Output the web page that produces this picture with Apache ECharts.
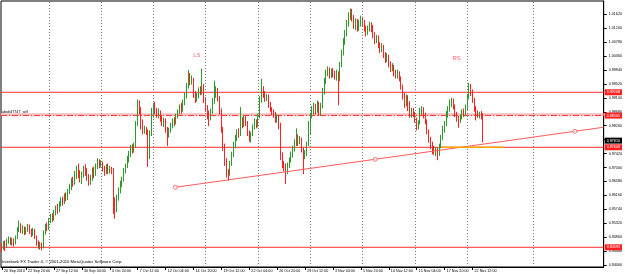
<!DOCTYPE html>
<html><head><meta charset="utf-8">
<script src="https://cdn.jsdelivr.net/npm/echarts@6/dist/echarts.min.js"></script>
<style>html,body{margin:0;padding:0;background:#fff}#c{width:625px;height:274px}</style>
</head><body><div id="c"></div>
<script>
// H4 bars, bar index counted from 20 Sep 2010 00:00 (6 bars per trading day)
const firstBar = 3;
const barOpen = [0.9468,
0.9458,0.9470,0.9462,0.9478,0.9485,0.9474,0.9480,0.9472,0.9488,0.9515,
0.9525,0.9510,0.9518,0.9505,0.9512,0.9520,0.9508,0.9500,0.9510,0.9490,
0.9472,0.9462,0.9468,0.9460,0.9505,0.9522,0.9515,0.9540,0.9552,0.9545,
0.9565,0.9578,0.9570,0.9590,0.9602,0.9595,0.9615,0.9608,0.9628,0.9640,
0.9660,0.9652,0.9675,0.9690,0.9680,0.9665,0.9678,0.9695,0.9688,0.9672,
0.9655,0.9668,0.9690,0.9680,0.9702,0.9718,0.9706,0.9712,0.9698,0.9688,
0.9700,0.9690,0.9695,0.9690,0.9590,0.9575,0.9610,0.9630,0.9650,0.9665,
0.9690,0.9705,0.9725,0.9740,0.9758,0.9752,0.9765,0.9830,0.9890,0.9875,
0.9835,0.9810,0.9818,0.9808,0.9740,0.9800,0.9860,0.9885,0.9872,0.9860,
0.9868,0.9850,0.9835,0.9842,0.9815,0.9800,0.9812,0.9828,0.9840,0.9835,
0.9855,0.9868,0.9880,0.9872,0.9895,0.9915,0.9945,0.9975,0.9960,0.9965,
0.9920,0.9905,0.9918,0.9935,0.9928,0.9945,0.9905,0.9880,0.9865,0.9850,
0.9870,0.9900,0.9925,0.9935,0.9910,0.9870,0.9815,0.9765,0.9720,0.9685,
0.9680,0.9712,0.9740,0.9768,0.9790,0.9805,0.9800,0.9840,0.9830,0.9848,
0.9835,0.9805,0.9790,0.9800,0.9822,0.9840,0.9830,0.9855,0.9905,0.9935,
0.9922,0.9908,0.9915,0.9890,0.9878,0.9870,0.9860,0.9845,0.9852,0.9828,
0.9735,0.9710,0.9700,0.9690,0.9705,0.9722,0.9740,0.9758,0.9775,0.9790,
0.9778,0.9785,0.9755,0.9735,0.9742,0.9770,0.9808,0.9855,0.9870,0.9885,
0.9872,0.9890,0.9862,0.9885,0.9930,0.9960,0.9985,0.9995,0.9978,0.9990,
0.9982,0.9975,0.9985,0.9970,1.0010,1.0045,1.0080,1.0105,1.0135,1.0155,
1.0165,1.0150,1.0128,1.0140,1.0122,1.0135,1.0145,1.0138,1.0120,1.0108,
1.0118,1.0130,1.0122,1.0100,1.0085,1.0092,1.0070,1.0058,1.0065,1.0040,
1.0028,1.0035,1.0012,0.9998,1.0005,0.9985,0.9978,0.9985,0.9968,0.9945,
0.9915,0.9905,0.9912,0.9895,0.9860,0.9872,0.9862,0.9845,0.9822,0.9835,
0.9868,0.9875,0.9858,0.9840,0.9810,0.9785,0.9770,0.9760,0.9748,0.9755,
0.9740,0.9765,0.9790,0.9815,0.9832,0.9860,0.9878,0.9892,0.9900,0.9882,
0.9860,0.9848,0.9840,0.9852,0.9868,0.9862,0.9880,0.9912,0.9935,0.9925,
0.9905,0.9878,0.9865,0.9858,0.9862,0.9855];
const barClose = [
0.9458,0.9470,0.9462,0.9478,0.9485,0.9474,0.9480,0.9472,0.9488,0.9515,
0.9525,0.9510,0.9518,0.9505,0.9512,0.9520,0.9508,0.9500,0.9510,0.9490,
0.9472,0.9462,0.9468,0.9460,0.9505,0.9522,0.9515,0.9540,0.9552,0.9545,
0.9565,0.9578,0.9570,0.9590,0.9602,0.9595,0.9615,0.9608,0.9628,0.9640,
0.9660,0.9652,0.9675,0.9690,0.9680,0.9665,0.9678,0.9695,0.9688,0.9672,
0.9655,0.9668,0.9690,0.9680,0.9702,0.9718,0.9706,0.9712,0.9698,0.9688,
0.9700,0.9690,0.9695,0.9690,0.9590,0.9575,0.9610,0.9630,0.9650,0.9665,
0.9690,0.9705,0.9725,0.9740,0.9758,0.9752,0.9765,0.9830,0.9890,0.9875,
0.9835,0.9810,0.9818,0.9808,0.9740,0.9800,0.9860,0.9885,0.9872,0.9860,
0.9868,0.9850,0.9835,0.9842,0.9815,0.9800,0.9812,0.9828,0.9840,0.9835,
0.9855,0.9868,0.9880,0.9872,0.9895,0.9915,0.9945,0.9975,0.9960,0.9965,
0.9920,0.9905,0.9918,0.9935,0.9928,0.9945,0.9905,0.9880,0.9865,0.9850,
0.9870,0.9900,0.9925,0.9935,0.9910,0.9870,0.9815,0.9765,0.9720,0.9685,
0.9680,0.9712,0.9740,0.9768,0.9790,0.9805,0.9800,0.9840,0.9830,0.9848,
0.9835,0.9805,0.9790,0.9800,0.9822,0.9840,0.9830,0.9855,0.9905,0.9935,
0.9922,0.9908,0.9915,0.9890,0.9878,0.9870,0.9860,0.9845,0.9852,0.9828,
0.9735,0.9710,0.9700,0.9690,0.9705,0.9722,0.9740,0.9758,0.9775,0.9790,
0.9778,0.9785,0.9755,0.9735,0.9742,0.9770,0.9808,0.9855,0.9870,0.9885,
0.9872,0.9890,0.9862,0.9885,0.9930,0.9960,0.9985,0.9995,0.9978,0.9990,
0.9982,0.9975,0.9985,0.9970,1.0010,1.0045,1.0080,1.0105,1.0135,1.0155,
1.0165,1.0150,1.0128,1.0140,1.0122,1.0135,1.0145,1.0138,1.0120,1.0108,
1.0118,1.0130,1.0122,1.0100,1.0085,1.0092,1.0070,1.0058,1.0065,1.0040,
1.0028,1.0035,1.0012,0.9998,1.0005,0.9985,0.9978,0.9985,0.9968,0.9945,
0.9915,0.9905,0.9912,0.9895,0.9860,0.9872,0.9862,0.9845,0.9822,0.9835,
0.9868,0.9875,0.9858,0.9840,0.9810,0.9785,0.9770,0.9760,0.9748,0.9755,
0.9740,0.9765,0.9790,0.9815,0.9832,0.9860,0.9878,0.9892,0.9900,0.9882,
0.9860,0.9848,0.9840,0.9852,0.9868,0.9862,0.9880,0.9912,0.9935,0.9925,
0.9905,0.9878,0.9865,0.9858,0.9862,0.9855,0.9781];
const barLow = [
0.9445,0.9452,0.9448,0.9458,0.9470,0.9466,0.9465,0.9462,0.9468,0.9484,
0.9505,0.9502,0.9500,0.9496,0.9498,0.9506,0.9500,0.9490,0.9494,0.9484,
0.9464,0.9455,0.9452,0.9450,0.9456,0.9498,0.9508,0.9512,0.9532,0.9536,
0.9540,0.9555,0.9560,0.9565,0.9582,0.9585,0.9590,0.9598,0.9602,0.9620,
0.9632,0.9642,0.9648,0.9665,0.9668,0.9655,0.9650,0.9670,0.9675,0.9660,
0.9645,0.9648,0.9660,0.9668,0.9675,0.9695,0.9698,0.9700,0.9688,0.9675,
0.9680,0.9680,0.9682,0.9680,0.9560,0.9545,0.9565,0.9600,0.9622,0.9640,
0.9658,0.9682,0.9698,0.9715,0.9732,0.9742,0.9745,0.9760,0.9825,0.9860,
0.9815,0.9800,0.9802,0.9798,0.9702,0.9725,0.9795,0.9850,0.9860,0.9850,
0.9848,0.9838,0.9825,0.9822,0.9805,0.9765,0.9790,0.9805,0.9818,0.9825,
0.9830,0.9848,0.9860,0.9862,0.9868,0.9888,0.9908,0.9938,0.9948,0.9950,
0.9910,0.9895,0.9898,0.9908,0.9918,0.9920,0.9895,0.9868,0.9845,0.9825,
0.9842,0.9862,0.9892,0.9910,0.9900,0.9860,0.9805,0.9750,0.9705,0.9670,
0.9660,0.9675,0.9705,0.9732,0.9758,0.9780,0.9790,0.9795,0.9818,0.9822,
0.9825,0.9795,0.9778,0.9775,0.9795,0.9815,0.9818,0.9822,0.9848,0.9895,
0.9910,0.9898,0.9900,0.9880,0.9868,0.9858,0.9850,0.9835,0.9835,0.9815,
0.9722,0.9698,0.9688,0.9650,0.9680,0.9698,0.9715,0.9730,0.9748,0.9765,
0.9765,0.9770,0.9745,0.9680,0.9725,0.9735,0.9765,0.9800,0.9848,0.9860,
0.9860,0.9865,0.9855,0.9855,0.9878,0.9920,0.9952,0.9975,0.9968,0.9970,
0.9972,0.9965,0.9962,0.9888,0.9960,1.0002,1.0038,1.0070,1.0095,1.0125,
1.0145,1.0140,1.0118,1.0115,1.0110,1.0112,1.0125,1.0125,1.0110,1.0095,
1.0100,1.0110,1.0108,1.0090,1.0072,1.0075,1.0060,1.0045,1.0048,1.0030,
1.0015,1.0018,1.0002,0.9988,0.9990,0.9975,0.9968,0.9968,0.9960,0.9935,
0.9905,0.9880,0.9885,0.9870,0.9850,0.9850,0.9852,0.9835,0.9812,0.9815,
0.9830,0.9858,0.9848,0.9830,0.9800,0.9775,0.9755,0.9740,0.9738,0.9735,
0.9722,0.9735,0.9758,0.9782,0.9805,0.9825,0.9850,0.9868,0.9882,0.9875,
0.9852,0.9838,0.9820,0.9835,0.9845,0.9852,0.9855,0.9872,0.9905,0.9915,
0.9895,0.9868,0.9842,0.9850,0.9848,0.9845,0.9776];
const barHigh = [
0.9472,0.9478,0.9480,0.9485,0.9492,0.9490,0.9488,0.9486,0.9495,0.9520,
0.9540,0.9532,0.9526,0.9522,0.9520,0.9530,0.9528,0.9515,0.9518,0.9515,
0.9495,0.9480,0.9476,0.9474,0.9510,0.9530,0.9534,0.9548,0.9560,0.9562,
0.9572,0.9585,0.9590,0.9598,0.9610,0.9612,0.9622,0.9625,0.9635,0.9650,
0.9668,0.9672,0.9690,0.9705,0.9712,0.9692,0.9688,0.9705,0.9710,0.9698,
0.9680,0.9678,0.9700,0.9702,0.9712,0.9728,0.9725,0.9722,0.9718,0.9705,
0.9710,0.9712,0.9705,0.9702,0.9698,0.9610,0.9618,0.9640,0.9660,0.9672,
0.9698,0.9712,0.9735,0.9750,0.9768,0.9770,0.9775,0.9840,0.9905,0.9902,
0.9882,0.9845,0.9826,0.9822,0.9815,0.9812,0.9880,0.9895,0.9898,0.9880,
0.9878,0.9872,0.9858,0.9850,0.9848,0.9822,0.9820,0.9835,0.9848,0.9852,
0.9862,0.9875,0.9890,0.9895,0.9905,0.9925,0.9955,0.9994,0.9985,0.9978,
0.9970,0.9930,0.9925,0.9942,0.9945,0.9998,0.9952,0.9912,0.9888,0.9872,
0.9878,0.9910,0.9962,0.9945,0.9940,0.9915,0.9878,0.9822,0.9772,0.9728,
0.9695,0.9720,0.9748,0.9778,0.9798,0.9815,0.9818,0.9882,0.9852,0.9858,
0.9855,0.9840,0.9812,0.9808,0.9830,0.9848,0.9845,0.9862,0.9915,0.9968,
0.9945,0.9930,0.9922,0.9920,0.9898,0.9882,0.9875,0.9868,0.9860,0.9858,
0.9835,0.9745,0.9720,0.9712,0.9715,0.9730,0.9748,0.9766,0.9785,0.9818,
0.9800,0.9795,0.9790,0.9760,0.9752,0.9778,0.9840,0.9865,0.9885,0.9895,
0.9892,0.9902,0.9898,0.9895,0.9940,0.9970,0.9995,1.0005,1.0002,0.9998,
1.0000,0.9992,0.9995,0.9990,1.0018,1.0055,1.0090,1.0115,1.0145,1.0168,
1.0180,1.0178,1.0160,1.0150,1.0148,1.0145,1.0158,1.0155,1.0145,1.0128,
1.0128,1.0140,1.0138,1.0130,1.0108,1.0100,1.0098,1.0078,1.0075,1.0070,
1.0048,1.0045,1.0040,1.0020,1.0015,1.0010,0.9995,0.9995,0.9990,0.9975,
0.9950,0.9925,0.9920,0.9918,0.9900,0.9880,0.9880,0.9868,0.9850,0.9842,
0.9880,0.9885,0.9882,0.9865,0.9845,0.9815,0.9792,0.9778,0.9765,0.9762,
0.9760,0.9772,0.9798,0.9825,0.9840,0.9870,0.9885,0.9905,0.9910,0.9908,
0.9890,0.9868,0.9855,0.9860,0.9875,0.9878,0.9890,0.9922,0.9955,0.9952,
0.9935,0.9910,0.9885,0.9872,0.9868,0.9870,0.9864];

const priceTicks = [1.01620,1.01200,1.00780,1.00360,0.99940,0.99520,0.99100,0.98680,0.98260,0.97840,0.97420,0.97000,0.96580,0.96160,0.95740,0.95320,0.94900,0.94480,0.94060];
const dateIdx = [3.2,17,33,49,65,81,97,113,129,145,161,177,193,209,225,241,257,273];
const dateLabels = ["20 Sep 2010","22 Sep 20:00","27 Sep 12:00","30 Sep 04:00","4 Oct 20:00","7 Oct 12:00","12 Oct 04:00","14 Oct 20:00","19 Oct 12:00","22 Oct 04:00","26 Oct 20:00","29 Oct 12:00","3 Nov 04:00","5 Nov 20:00","10 Nov 12:00","15 Nov 04:00","17 Nov 20:00","22 Nov 12:00"];
const weekIdx = [30,60,90,120,150,180,210,240,270,307.6];
const levelRed = [0.99268, 0.97609, 0.94593];
const levelDashDot = 0.98565;
const levelBand = 0.98598;
const bidPrice = 0.97810;
const orangeSeg = [[255.4,0.97609],[290.7,0.97609]];
const trendA = [102.6, 0.96403];
const trendB = [331.7, 0.98092];
const trendMid = [217.2, 0.97247];
const textMarks = [{name:'LS', idx:114.9, price:1.00393},{name:'RS', idx:263.9, price:1.00302}];
const lineName = 'abob47747_sell';
const copyright = 'Interbank FX Trader 4, \u00a9 2001-2010 MetaQuotes Software Corp.';

const XMIN = 2.596, XMAX = 348.19, YMIN = 0.93999, YMAX = 1.02021;

const candles = barClose.map((c, k) => [firstBar + k, barOpen[k], c, barLow[k], barHigh[k]]);

const chart = echarts.init(document.getElementById('c'), null, {renderer:'canvas'});
const FONT = 'Liberation Sans, Arial, sans-serif';
const slope = (trendB[1]-trendA[1])/(trendB[0]-trendA[0]);
const trendEnd = [XMAX, trendA[1] + slope*(XMAX-trendA[0])];

function hl(v, color, width, type, labelBg, showLabel) {
  return {type:'line', silent:true, symbol:'none', z:3,
    data:[[XMIN, v],[XMAX, v]],
    lineStyle:{color:color, width:width, type:type, opacity: width ? 1 : 0},
    endLabel:{show:showLabel, formatter:v.toFixed(5), backgroundColor:labelBg, color:'#fff', fontSize:3.7,
      fontFamily:FONT, padding:[1.2,2,0.8,2], distance:1}};
}

const option = {
  animation:false,
  backgroundColor:'#fff',
  grid:{left:1, top:1, width:607, height:266, show:true, borderColor:'#000', borderWidth:1, backgroundColor:'transparent'},
  xAxis:{type:'value', min:XMIN, max:XMAX, splitLine:{show:false},
    axisLine:{show:true, onZero:false, lineStyle:{color:'#000'}},
    axisTick:{show:true, length:3, customValues:dateIdx, lineStyle:{color:'#000'}},
    axisLabel:{show:true, customValues:dateIdx, formatter:(v)=>{const k=dateIdx.indexOf(v);return k>=0?dateLabels[k]:'';},
      fontSize:3.7, fontFamily:FONT, color:'#000', align:'left', margin:1.5, padding:[0,0,0,2]}},
  yAxis:{type:'value', position:'right', min:YMIN, max:YMAX, splitLine:{show:false},
    axisLine:{show:true, lineStyle:{color:'#000'}},
    axisTick:{show:true, length:3, customValues:priceTicks, lineStyle:{color:'#000'}},
    axisLabel:{show:true, customValues:priceTicks, formatter:(v)=>v.toFixed(5), fontSize:3.7, fontFamily:FONT, color:'#000', margin:5}},
  series:[
    {type:'line', data:[], silent:true, markLine:{silent:true, symbol:'none', animation:false, label:{show:false},
      data: weekIdx.map(v=>({xAxis:v, lineStyle:{color:'#777', type:[1,2], width:1}}))}},
    {type:'candlestick', data:candles, encode:{x:0, y:[1,2,3,4]}, barWidth:1.2, z:4,
     itemStyle:{color:'#2a9a2a', color0:'#ff2020', borderColor:'#2a9a2a', borderColor0:'#ff2020', borderWidth:1}},
    hl(levelBand, '#ffbcbc', 2.5, 'solid', '#ff2020', false),
    hl(levelDashDot, '#ff3030', 1, [6,2,1,2], '#ff2020', true),
    hl(levelRed[0], '#ff3030', 1, 'solid', '#ff2020', true),
    hl(levelRed[1], '#ff3030', 1, 'solid', '#ff2020', true),
    hl(levelRed[2], '#ff3030', 1, 'solid', '#ff2020', true),
    hl(bidPrice, '#000', 0, 'solid', '#000', true),
    {type:'line', data:[trendA, trendEnd], symbol:'none', lineStyle:{color:'#ff5a5a', width:1}, silent:true, z:5},
    {type:'scatter', data:[trendA, trendMid, trendB], symbol:'circle', symbolSize:4, z:6,
     itemStyle:{color:'#fff', borderColor:'#ff5a5a', borderWidth:1}, silent:true},
    {type:'line', data:orangeSeg, symbol:'none', lineStyle:{color:'#ffa500', width:1.5}, silent:true, z:5},
    {type:'scatter', data:textMarks.map(t=>[t.idx,t.price,t.name]), symbolSize:0, z:6,
     label:{show:true, formatter:(p)=>p.data[2], color:'#ff4040', fontSize:6, fontFamily:FONT, position:'inside'}, silent:true}
  ],
  graphic:[
    {type:'text', left:2, top:259.5, style:{text:copyright, fontSize:4.2, fontFamily:FONT, fill:'#000'}},
    {type:'text', left:2, top:110, style:{text:lineName, fontSize:3.7, fontFamily:FONT, fill:'#000'}}
  ]
};
chart.setOption(option);
</script></body></html>
